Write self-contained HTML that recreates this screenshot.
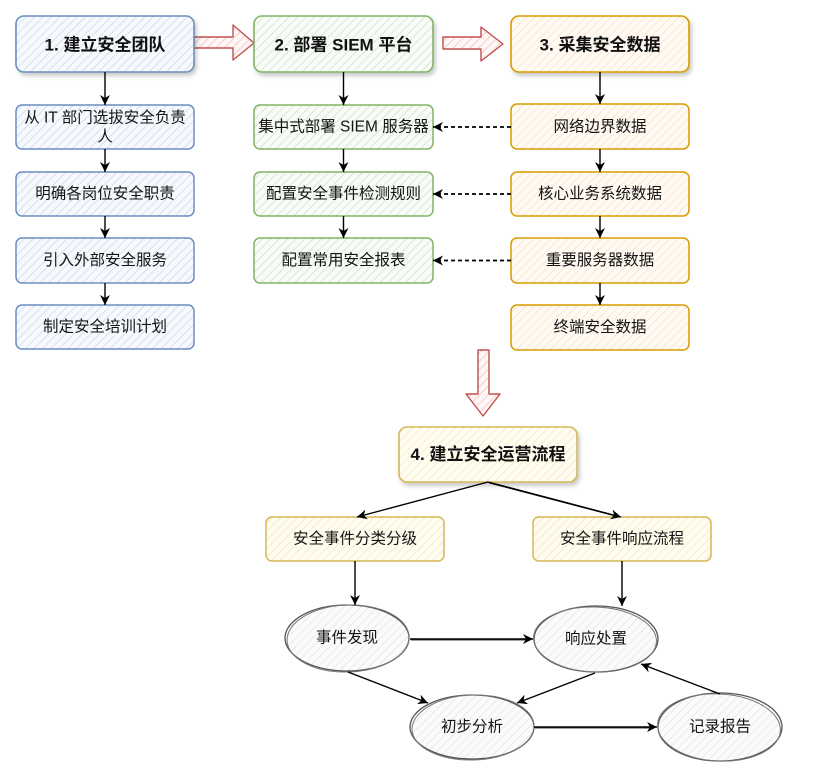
<!DOCTYPE html>
<html>
<head>
<meta charset="utf-8">
<style>
  html,body{margin:0;padding:0;background:#fff;}
  svg{display:block;}
  text{font-family:"Liberation Sans","Noto Sans CJK SC",sans-serif;fill:#141414;}
  .h{font-size:17px;font-weight:bold;fill:#111;}
  .s{font-size:15.5px;}
</style>
</head>
<body>
<svg width="833" height="773" viewBox="0 0 833 773" xmlns="http://www.w3.org/2000/svg">
<defs>
  <pattern id="pb" patternUnits="userSpaceOnUse" width="6" height="6" patternTransform="rotate(45)">
    <rect width="6" height="6" fill="#f7f9fd"/><line x1="0" y1="0" x2="0" y2="6" stroke="#c3d4ef" stroke-width="1.3"/>
  </pattern>
  <pattern id="pg" patternUnits="userSpaceOnUse" width="6" height="6" patternTransform="rotate(45)">
    <rect width="6" height="6" fill="#f8fbf7"/><line x1="0" y1="0" x2="0" y2="6" stroke="#c6e0bd" stroke-width="1.3"/>
  </pattern>
  <pattern id="po" patternUnits="userSpaceOnUse" width="6" height="6" patternTransform="rotate(45)">
    <rect width="6" height="6" fill="#fffaf4"/><line x1="0" y1="0" x2="0" y2="6" stroke="#fbdcb8" stroke-width="1.3"/>
  </pattern>
  <pattern id="py" patternUnits="userSpaceOnUse" width="6" height="6" patternTransform="rotate(45)">
    <rect width="6" height="6" fill="#fffcf1"/><line x1="0" y1="0" x2="0" y2="6" stroke="#f3e4b0" stroke-width="1.3"/>
  </pattern>
  <pattern id="pr" patternUnits="userSpaceOnUse" width="6" height="6" patternTransform="rotate(45)">
    <rect width="6" height="6" fill="#fff6f6"/><line x1="0" y1="0" x2="0" y2="6" stroke="#f1b7b5" stroke-width="1.3"/>
  </pattern>
  <pattern id="pw" patternUnits="userSpaceOnUse" width="6" height="6" patternTransform="rotate(45)">
    <rect width="6" height="6" fill="#fbfbfb"/><line x1="0" y1="0" x2="0" y2="6" stroke="#dcdcdc" stroke-width="1.1"/>
  </pattern>
  <filter id="sh" x="-10%" y="-20%" width="130%" height="160%">
    <feDropShadow dx="2" dy="3" stdDeviation="2" flood-color="#000" flood-opacity="0.22"/>
  </filter>
  <marker id="ar" markerUnits="userSpaceOnUse" markerWidth="12" markerHeight="10" refX="10" refY="5" orient="auto">
    <path d="M0,0 L10,5 L0,10 L3,5 Z" fill="#000"/>
  </marker>
</defs>

<!-- Red block arrows -->
<polygon points="194,37 233,37 233,25 254,43 233,60 233,48 194,48" fill="url(#pr)" stroke="#c0504d" stroke-width="1.4" stroke-linejoin="round"/>
<polygon points="443,37 481,37 481,27 503,44 481,61 481,49 443,49" fill="url(#pr)" stroke="#c0504d" stroke-width="1.4" stroke-linejoin="round"/>
<polygon points="478,350 489,350 489,394 500,394 483,416 466,394 478,394" fill="url(#pr)" stroke="#c0504d" stroke-width="1.4" stroke-linejoin="round"/>

<!-- Header boxes -->
<rect x="16" y="16" width="178" height="56" rx="8" fill="url(#pb)" stroke="#6c8ebf" stroke-width="1.6" filter="url(#sh)"/>
<text class="h" x="105" y="45" text-anchor="middle" dominant-baseline="central">1. 建立安全团队</text>
<rect x="254" y="16" width="179" height="56" rx="8" fill="url(#pg)" stroke="#82b366" stroke-width="1.6" filter="url(#sh)"/>
<text class="h" x="343.5" y="45" text-anchor="middle" dominant-baseline="central">2. 部署 SIEM 平台</text>
<rect x="511" y="16" width="178" height="56" rx="8" fill="url(#po)" stroke="#d79b00" stroke-width="1.6" filter="url(#sh)"/>
<text class="h" x="600" y="45" text-anchor="middle" dominant-baseline="central">3. 采集安全数据</text>

<!-- Left column -->
<rect x="16" y="105" width="178" height="44" rx="6" fill="url(#pb)" stroke="#6c8ebf" stroke-width="1.5"/>
<text class="s" x="105" y="118" text-anchor="middle" dominant-baseline="central">从 IT 部门选拔安全负责</text>
<text class="s" x="105" y="137" text-anchor="middle" dominant-baseline="central">人</text>
<rect x="16" y="172" width="178" height="44" rx="6" fill="url(#pb)" stroke="#6c8ebf" stroke-width="1.5"/>
<text class="s" x="105" y="194" text-anchor="middle" dominant-baseline="central">明确各岗位安全职责</text>
<rect x="16" y="238" width="178" height="45" rx="6" fill="url(#pb)" stroke="#6c8ebf" stroke-width="1.5"/>
<text class="s" x="105" y="260.5" text-anchor="middle" dominant-baseline="central">引入外部安全服务</text>
<rect x="16" y="305" width="178" height="44" rx="6" fill="url(#pb)" stroke="#6c8ebf" stroke-width="1.5"/>
<text class="s" x="105" y="327" text-anchor="middle" dominant-baseline="central">制定安全培训计划</text>

<!-- Middle column -->
<rect x="254" y="105" width="179" height="44" rx="6" fill="url(#pg)" stroke="#82b366" stroke-width="1.5"/>
<text class="s" x="343.5" y="127" text-anchor="middle" dominant-baseline="central">集中式部署 SIEM 服务器</text>
<rect x="254" y="172" width="179" height="44" rx="6" fill="url(#pg)" stroke="#82b366" stroke-width="1.5"/>
<text class="s" x="343.5" y="194" text-anchor="middle" dominant-baseline="central">配置安全事件检测规则</text>
<rect x="254" y="238" width="179" height="45" rx="6" fill="url(#pg)" stroke="#82b366" stroke-width="1.5"/>
<text class="s" x="343.5" y="260.5" text-anchor="middle" dominant-baseline="central">配置常用安全报表</text>

<!-- Right column -->
<rect x="511" y="104" width="178" height="45" rx="6" fill="url(#po)" stroke="#d79b00" stroke-width="1.5"/>
<text class="s" x="600" y="127" text-anchor="middle" dominant-baseline="central">网络边界数据</text>
<rect x="511" y="172" width="178" height="44" rx="6" fill="url(#po)" stroke="#d79b00" stroke-width="1.5"/>
<text class="s" x="600" y="194" text-anchor="middle" dominant-baseline="central">核心业务系统数据</text>
<rect x="511" y="238" width="178" height="45" rx="6" fill="url(#po)" stroke="#d79b00" stroke-width="1.5"/>
<text class="s" x="600" y="260.5" text-anchor="middle" dominant-baseline="central">重要服务器数据</text>
<rect x="511" y="305" width="178" height="45" rx="6" fill="url(#po)" stroke="#d79b00" stroke-width="1.5"/>
<text class="s" x="600" y="327.5" text-anchor="middle" dominant-baseline="central">终端安全数据</text>

<!-- Vertical arrows -->
<g stroke="#000" stroke-width="1.4" fill="none" marker-end="url(#ar)">
  <line x1="105" y1="72" x2="105" y2="105"/>
  <line x1="105" y1="149" x2="105" y2="172"/>
  <line x1="105" y1="216" x2="105" y2="238"/>
  <line x1="105" y1="283" x2="105" y2="305"/>
  <line x1="343.5" y1="72" x2="343.5" y2="105"/>
  <line x1="343.5" y1="149" x2="343.5" y2="172"/>
  <line x1="343.5" y1="216" x2="343.5" y2="238"/>
  <line x1="600" y1="72" x2="600" y2="104"/>
  <line x1="600" y1="149" x2="600" y2="172"/>
  <line x1="600" y1="216" x2="600" y2="238"/>
  <line x1="600" y1="283" x2="600" y2="305"/>
</g>
<!-- Dashed arrows -->
<g stroke="#000" stroke-width="1.7" fill="none" stroke-dasharray="4,3" marker-end="url(#ar)">
  <line x1="511" y1="127" x2="433" y2="127"/>
  <line x1="511" y1="194" x2="433" y2="194"/>
  <line x1="511" y1="260.5" x2="433" y2="260.5"/>
</g>

<!-- Step 4 -->
<rect x="399" y="427" width="178" height="55" rx="8" fill="url(#py)" stroke="#d6b656" stroke-width="1.6" filter="url(#sh)"/>
<text class="h" x="488" y="454.5" text-anchor="middle" dominant-baseline="central">4. 建立安全运营流程</text>

<rect x="266" y="517" width="178" height="44" rx="6" fill="url(#py)" stroke="#d6b656" stroke-width="1.5"/>
<text class="s" x="355" y="539" text-anchor="middle" dominant-baseline="central">安全事件分类分级</text>
<rect x="533" y="517" width="178" height="44" rx="6" fill="url(#py)" stroke="#d6b656" stroke-width="1.5"/>
<text class="s" x="622" y="539" text-anchor="middle" dominant-baseline="central">安全事件响应流程</text>

<!-- Ellipses -->
<g fill="url(#pw)" stroke="#555" stroke-width="1.3">
  <ellipse cx="347" cy="638" rx="62" ry="33"/>
  <ellipse cx="596" cy="639" rx="62" ry="33"/>
  <ellipse cx="472" cy="727" rx="62" ry="32"/>
  <ellipse cx="720" cy="727" rx="62" ry="34"/>
</g>
<g fill="none" stroke="#777" stroke-width="1">
  <ellipse cx="348" cy="638.5" rx="61" ry="33.5" transform="rotate(-2 348 638)"/>
  <ellipse cx="595" cy="639.5" rx="61.5" ry="32.5" transform="rotate(2 595 639)"/>
  <ellipse cx="473" cy="727.5" rx="61" ry="32.5" transform="rotate(-2 473 727)"/>
  <ellipse cx="719" cy="727.5" rx="61.5" ry="33.5" transform="rotate(3 719 727)"/>
</g>
<text class="s" x="347" y="638" text-anchor="middle" dominant-baseline="central">事件发现</text>
<text class="s" x="596" y="639" text-anchor="middle" dominant-baseline="central">响应处置</text>
<text class="s" x="472" y="727" text-anchor="middle" dominant-baseline="central">初步分析</text>
<text class="s" x="720" y="727" text-anchor="middle" dominant-baseline="central">记录报告</text>

<!-- Bottom arrows -->
<g stroke="#000" stroke-width="1.4" fill="none" marker-end="url(#ar)">
  <line x1="488" y1="482" x2="357" y2="517"/>
  <line x1="488" y1="482" x2="621" y2="517"/>
  <line x1="355" y1="561" x2="355" y2="605"/>
  <line x1="622" y1="561" x2="622" y2="606"/>
  <line x1="410" y1="639" x2="533" y2="639"/>
  <line x1="348" y1="672" x2="428" y2="703"/>
  <line x1="595" y1="673" x2="517" y2="703"/>
  <line x1="534" y1="727" x2="657" y2="727"/>
  <line x1="720" y1="694" x2="641" y2="664"/>
</g>
<g stroke="#000" stroke-width="0.8" fill="none">
  <line x1="489" y1="483" x2="615" y2="516"/>
  <line x1="411" y1="640" x2="526" y2="640"/>
  <line x1="535" y1="728" x2="650" y2="728"/>
</g>
</svg>
</body>
</html>
